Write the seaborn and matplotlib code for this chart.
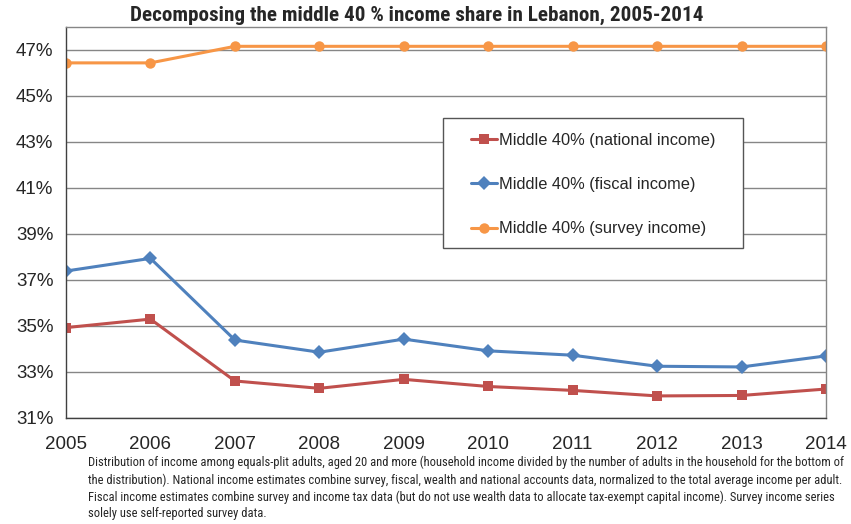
import matplotlib
matplotlib.use("Agg")
import pandas as pd
import seaborn as sns
import matplotlib.pyplot as plt
import matplotlib.font_manager as fm
from matplotlib.patches import Rectangle
from matplotlib.ticker import FuncFormatter

sns.set_style("white")
plt.rcParams["font.family"] = ["Liberation Sans", "DejaVu Sans"]

years = list(range(2005, 2015))
national = [34.93, 35.30, 32.61, 32.29, 32.68, 32.37, 32.20, 31.96, 31.98, 32.26]
fiscal = [37.39, 37.94, 34.39, 33.86, 34.43, 33.92, 33.73, 33.25, 33.22, 33.70]
survey = [46.44, 46.44, 47.16, 47.16, 47.16, 47.16, 47.16, 47.16, 47.16, 47.16]

labels = [
    "Middle 40% (national income)",
    "Middle 40% (fiscal income)",
    "Middle 40% (survey income)",
]
yticks = [31, 33, 35, 37, 39, 41, 43, 45, 47]

title = "Decomposing the middle 40 % income share in Lebanon, 2005-2014"
caption_lines = [
    "Distribution of income among equals-plit adults, aged 20 and more (household income divided by the number of adults in the household for the bottom of",
    "the distribution). National income estimates combine survey, fiscal, wealth and national accounts data, normalized to the total average income per adult.",
    "Fiscal income estimates combine survey and income tax data (but do not use wealth data to allocate tax-exempt capital income). Survey income series",
    "solely use self-reported survey data.",
]

# pick a narrow face if one happens to be installed
names = {f.name for f in fm.fontManager.ttflist}
narrow = next((n for n in ["Liberation Sans Narrow", "Arial Narrow", "Roboto Condensed"]
               if n in names), "Liberation Sans")

W, H = 851, 524
fig = plt.figure(figsize=(W / 100, H / 100), dpi=100)
ax = fig.add_axes([66 / W, 1 - 418 / H, 760 / W, 391 / H])
r = fig.canvas.get_renderer()


def fit_size(text, target_px, **kw):
    probe = fig.text(0, 0, text, fontsize=10, **kw)
    w = probe.get_window_extent(r).width
    probe.remove()
    return 10 * target_px / w


styles = [
    (national, "#C0504D", "s", 6.5),
    (fiscal, "#4F81BD", "D", 7.5),
    (survey, "#F79646", "o", 7.5),
]
for (vals, color, marker, ms), label in zip(styles, labels):
    sns.lineplot(x=years, y=vals, ax=ax, color=color, marker=marker,
                 markersize=ms, markeredgewidth=0, linewidth=2.2, label=label)

ax.set_xlim(2005, 2014)
ax.set_ylim(31, 48.0)
ax.set_xticks(years)
ax.set_yticks(yticks)
ax.yaxis.set_major_formatter(FuncFormatter(lambda v, p: f"{v:.0f}%"))
ax.tick_params(axis="both", labelsize=13.5, length=6, width=1, color="#404040",
               direction="out", pad=3)
ax.tick_params(axis="x", pad=7)
ax.grid(axis="y", color="#868686", linewidth=1)
for side in ["top", "right"]:
    ax.spines[side].set_color("#868686")
for side in ["left", "bottom"]:
    ax.spines[side].set_color("#404040")
for s in ax.spines.values():
    s.set_linewidth(1)
ax.set_axisbelow(True)

tfs = fit_size(title, 573, fontweight="bold", family=narrow)
fig.text(417 / W, 1 - 15 / H, title, fontsize=tfs, fontweight="bold",
         ha="center", va="center", family=narrow)

leg = ax.legend(loc="upper left", bbox_to_anchor=(471 / W, 1 - 133 / H),
                bbox_transform=fig.transFigure, fontsize=11.8, frameon=False,
                labelspacing=1.78, borderpad=0, handlelength=1.6,
                handletextpad=0.1, borderaxespad=0)
leg.set_zorder(6)
ax.add_patch(Rectangle((443 / W, 1 - 248 / H), 300 / W, 130 / H,
                       transform=fig.transFigure, facecolor="white",
                       edgecolor="#555555", linewidth=1, zorder=5, clip_on=False))

# caption, sized so the first line spans the same width as in the source
fs = fit_size(caption_lines[0], 748, family=narrow)
fig.text(88 / W, 1 - 456 / H, "\n".join(caption_lines), fontsize=fs,
         va="top", ha="left", linespacing=20.2 / (fs * 100 / 72) / 1.2,
         family=narrow)

fig.savefig("out.png", dpi=100)
